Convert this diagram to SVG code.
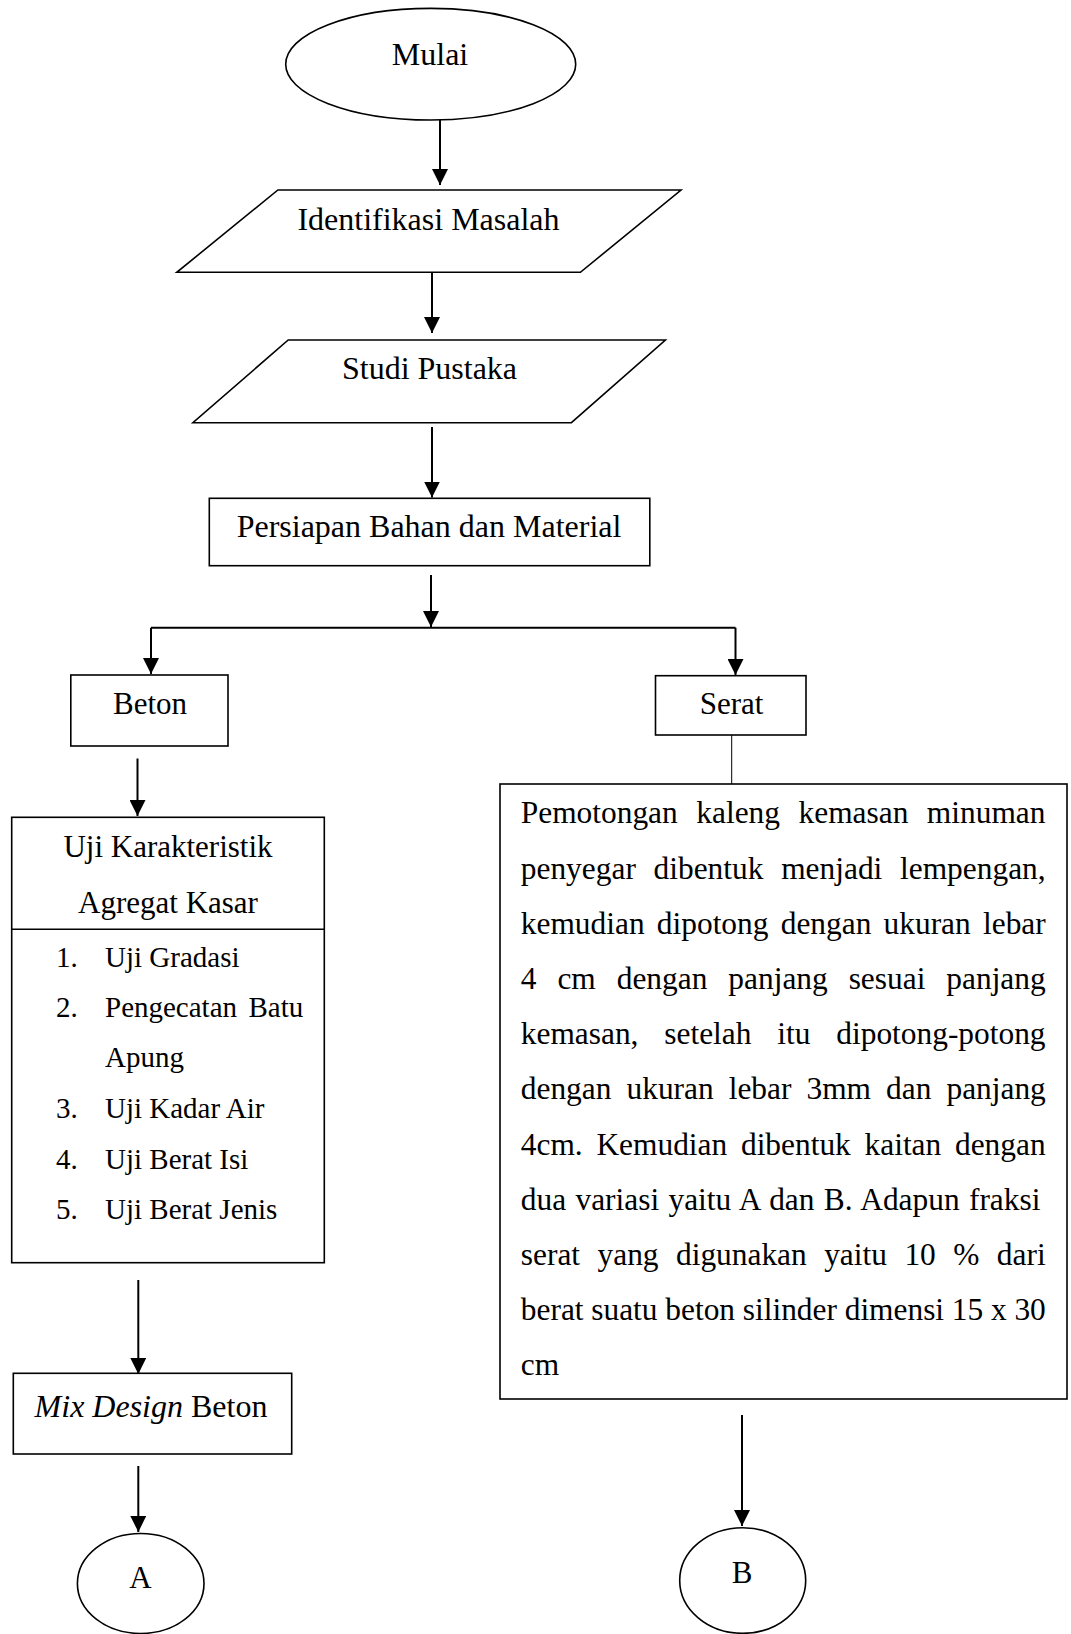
<svg xmlns="http://www.w3.org/2000/svg" width="1071" height="1634" viewBox="0 0 1071 1634">
<style>
  .shape { fill: #fff; stroke: #000; stroke-width: 1.6; }
  .t { font-family: "Liberation Serif", "Times New Roman", serif; fill: #000; }
  .c { text-anchor: middle; }
  .f32 { font-size: 32px; }
  .f31 { font-size: 31px; }
  .f29 { font-size: 29px; }
  .p { font-size: 31.4px; }
  .conn { fill: none; stroke: #000; stroke-width: 2; }
  .thin { fill: none; stroke: #000; stroke-width: 1; }
</style>
<defs>
  <marker id="ah" viewBox="0 0 16 16" refX="16" refY="8" markerWidth="16" markerHeight="16" markerUnits="userSpaceOnUse" orient="auto">
    <path d="M0,0 L16,8 L0,16 z" fill="#000"/>
  </marker>
</defs>

<g id="connectors">
  <path class="conn" d="M440,120 V185" marker-end="url(#ah)"/>
  <path class="conn" d="M432,272.3 V333" marker-end="url(#ah)"/>
  <path class="conn" d="M432,427 V497.5" marker-end="url(#ah)"/>
  <path class="conn" d="M431,575 V627" marker-end="url(#ah)"/>
  <path class="conn" d="M151,627.7 H735.5"/>
  <path class="conn" d="M151,627.7 V674" marker-end="url(#ah)"/>
  <path class="conn" d="M735.5,627.7 V675" marker-end="url(#ah)"/>
  <path class="thin" d="M731.7,735 V784"/>
  <path class="conn" d="M137.5,758.5 V816" marker-end="url(#ah)"/>
  <path class="conn" d="M138.3,1280 V1374" marker-end="url(#ah)"/>
  <path class="conn" d="M138.3,1466 V1532" marker-end="url(#ah)"/>
  <path class="conn" d="M742,1415 V1526" marker-end="url(#ah)"/>
</g>

<g id="mulai">
  <ellipse class="shape" cx="430.7" cy="64.2" rx="145" ry="55.8"/>
  <text class="t c f32" x="430" y="65">Mulai</text>
</g>

<g id="identifikasi">
  <polygon class="shape" points="277.9,190 681,190 580.4,272.3 176.8,272.3"/>
  <text class="t c f32" x="428.5" y="230">Identifikasi Masalah</text>
</g>

<g id="studi">
  <polygon class="shape" points="288.2,340 665.4,340 571.4,422.7 192.9,422.7"/>
  <text class="t c f32" x="429.5" y="379">Studi Pustaka</text>
</g>

<g id="persiapan">
  <rect class="shape" x="209.3" y="498.3" width="440.5" height="67.4"/>
  <text class="t c f32" x="429" y="537.3">Persiapan Bahan dan Material</text>
</g>

<g id="beton">
  <rect class="shape" x="70.8" y="675" width="157.2" height="71"/>
  <text class="t c f31" x="150" y="713.5">Beton</text>
</g>

<g id="serat">
  <rect class="shape" x="655.5" y="675.7" width="150.5" height="59.3"/>
  <text class="t c f31" x="731.5" y="713.5">Serat</text>
</g>

<g id="uji">
  <rect class="shape" x="11.7" y="817.3" width="312.6" height="445.4"/>
  <line class="shape" x1="11.7" y1="929.3" x2="324.3" y2="929.3"/>
  <text class="t c f31" x="168" y="856.7">Uji Karakteristik</text>
  <text class="t c f31" x="168" y="913.3">Agregat Kasar</text>
  <text class="t f29" x="56" y="966.7">1.</text>
  <text class="t f29" x="105" y="966.7">Uji Gradasi</text>
  <text class="t f29" x="56" y="1016.7">2.</text>
  <text class="t f29" x="105" y="1016.7">Pengecatan</text>
  <text class="t f29" x="303.3" y="1016.7" text-anchor="end">Batu</text>
  <text class="t f29" x="105" y="1067.3">Apung</text>
  <text class="t f29" x="56" y="1118.3">3.</text>
  <text class="t f29" x="105" y="1118.3">Uji Kadar Air</text>
  <text class="t f29" x="56" y="1169.3">4.</text>
  <text class="t f29" x="105" y="1169.3">Uji Berat Isi</text>
  <text class="t f29" x="56" y="1219.3">5.</text>
  <text class="t f29" x="105" y="1219.3">Uji Berat Jenis</text>
</g>

<g id="mixdesign">
  <rect class="shape" x="13.3" y="1373.3" width="278.4" height="80.7"/>
  <text class="t c f32" x="151" y="1416.7"><tspan font-style="italic">Mix Design</tspan> Beton</text>
</g>

<g id="a">
  <ellipse class="shape" cx="140.7" cy="1583.5" rx="63.3" ry="50"/>
  <text class="t c f31" x="140.5" y="1588.3">A</text>
</g>

<g id="pemotongan">
  <rect class="shape" x="500" y="784" width="567" height="615"/>
  <text class="t p" x="520.8" y="823.3" word-spacing="10.7">Pemotongan kaleng kemasan minuman</text>
  <text class="t p" x="520.8" y="878.5" word-spacing="9.9">penyegar dibentuk menjadi lempengan,</text>
  <text class="t p" x="520.8" y="933.7" word-spacing="4.4">kemudian dipotong dengan ukuran lebar</text>
  <text class="t p" x="520.8" y="988.9" word-spacing="13.1">4 cm dengan panjang sesuai panjang</text>
  <text class="t p" x="520.8" y="1044.1" word-spacing="18">kemasan, setelah itu dipotong-potong</text>
  <text class="t p" x="520.8" y="1099.3" word-spacing="7.2">dengan ukuran lebar 3mm dan panjang</text>
  <text class="t p" x="520.8" y="1154.5" word-spacing="5.9">4cm. Kemudian dibentuk kaitan dengan</text>
  <text class="t p" x="520.8" y="1209.7" word-spacing="1.5">dua variasi yaitu A dan B. Adapun fraksi</text>
  <text class="t p" x="520.8" y="1264.9" word-spacing="9.6">serat yang digunakan yaitu 10 % dari</text>
  <text class="t p" x="520.8" y="1320.1" word-spacing="-0.1">berat suatu beton silinder dimensi 15 x 30</text>
  <text class="t p" x="520.8" y="1375.3">cm</text>
</g>

<g id="b">
  <ellipse class="shape" cx="742.7" cy="1580.5" rx="63" ry="52.8"/>
  <text class="t c f31" x="742" y="1583.3">B</text>
</g>
</svg>
